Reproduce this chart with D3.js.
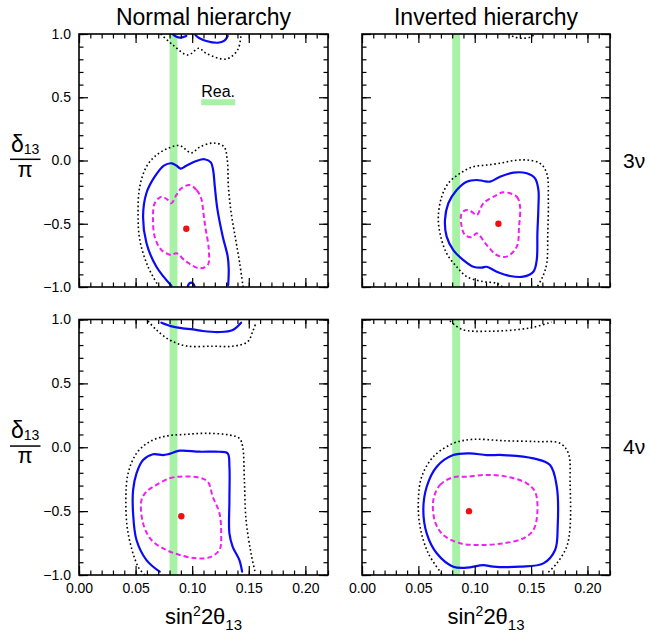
<!DOCTYPE html>
<html>
<head>
<meta charset="utf-8">
<script src="https://cdn.jsdelivr.net/npm/d3@7"></script>
<style>
  html, body { margin: 0; padding: 0; background: #fff; }
  svg text { font-family: "Liberation Sans", Arial, Helvetica, sans-serif; fill: #000; }
</style>
</head>
<body>
<svg id="chart" width="650" height="633"></svg>
<script>
// ---- axis settings ----
const xDomain = [0, 0.22];
const yDomain = [-1, 1];
const xMajorTicks = [0, 0.05, 0.10, 0.15, 0.20];
const yMajorTicks = [-1, -0.5, 0, 0.5, 1];
const columnTitles = ["Normal hierarchy", "Inverted hierarchy"];
const rowLabels = ["3\u03bd", "4\u03bd"];

// reactor allowed band in sin^2 2theta13
const reactorBand = [0.080, 0.087];

// best-fit points [sin^2 2theta13, delta13/pi]
const bestFitNH3 = [0.0948, -0.54];
const bestFitIH3 = [0.1210, -0.50];
const bestFitNH4 = [0.0904, -0.54];
const bestFitIH4 = [0.0949, -0.50];

// ---- Normal hierarchy, 3 flavours ----
const nh3Magenta = [[0.0977,-0.194],[0.1040,-0.235],[0.1080,-0.300],[0.1100,-0.420],[0.1115,-0.520],[0.1147,-0.707],[0.1138,-0.826],[0.1065,-0.852],[0.0948,-0.800],[0.0860,-0.733],[0.0816,-0.747],[0.0728,-0.707],[0.0669,-0.602],[0.0654,-0.444],[0.0669,-0.338],[0.0728,-0.286],[0.0786,-0.312],[0.0816,-0.338],[0.0860,-0.273],[0.0904,-0.220]];
const nh3Blue = [[0.0816,-0.990],[0.0684,-0.840],[0.0596,-0.652],[0.0566,-0.444],[0.0596,-0.257],[0.0669,-0.128],[0.0750,-0.040],[0.0820,-0.022],[0.0860,-0.040],[0.0898,-0.064],[0.0948,-0.041],[0.1036,-0.004],[0.1110,0.010],[0.1165,-0.015],[0.1185,-0.075],[0.1200,-0.207],[0.1222,-0.380],[0.1270,-0.600],[0.1314,-0.760],[0.1323,-0.860],[0.1318,-0.985]];
const nh3BlueTopA = [[0.0826,1.0],[0.0860,0.978],[0.0900,0.972],[0.0948,0.985]];
const nh3BlueTopB = [[0.1030,0.990],[0.1065,0.966],[0.1124,0.945],[0.1226,0.931],[0.1285,0.947],[0.1314,0.984]];
const nh3BlueBottom = [[0.0962,-0.992],[0.0975,-0.972],[0.0992,-0.966],[0.1010,-0.975],[0.1020,-0.992]];
const nh3Dotted = [[0.0707,-1.0],[0.0610,-0.840],[0.0537,-0.628],[0.0522,-0.417],[0.0537,-0.207],[0.0596,-0.049],[0.0684,0.043],[0.0786,0.096],[0.0890,0.118],[0.0992,0.060],[0.1065,0.105],[0.1182,0.138],[0.1280,0.110],[0.1310,0.004],[0.1320,-0.207],[0.1345,-0.417],[0.1385,-0.628],[0.1420,-0.813],[0.1450,-1.0]];
const nh3DottedTop = [[0.0722,1.0],[0.0830,0.913],[0.0962,0.834],[0.1059,0.887],[0.1124,0.847],[0.1300,0.802],[0.1402,0.874],[0.1432,1.0]];

// ---- Inverted hierarchy, 3 flavours ----
const ih3Magenta = [[0.1254,-0.251],[0.1373,-0.286],[0.1402,-0.365],[0.1393,-0.523],[0.1373,-0.681],[0.1284,-0.760],[0.1195,-0.747],[0.1106,-0.668],[0.1018,-0.576],[0.0973,-0.607],[0.0914,-0.589],[0.0884,-0.523],[0.0884,-0.417],[0.0929,-0.391],[0.0973,-0.405],[0.1018,-0.431],[0.1077,-0.338],[0.1195,-0.273]];
const ih3Blue = [[0.0929,-0.167],[0.1018,-0.154],[0.1077,-0.162],[0.1136,-0.167],[0.1224,-0.128],[0.1343,-0.096],[0.1461,-0.101],[0.1535,-0.141],[0.1565,-0.233],[0.1565,-0.365],[0.1556,-0.576],[0.1550,-0.787],[0.1520,-0.879],[0.1431,-0.918],[0.1313,-0.913],[0.1195,-0.879],[0.1106,-0.840],[0.1062,-0.847],[0.0988,-0.840],[0.0899,-0.787],[0.0810,-0.708],[0.0751,-0.602],[0.0736,-0.470],[0.0766,-0.338],[0.0840,-0.233]];
const ih3Dotted = [[0.1275,-1.02],[0.1195,-0.971],[0.1077,-0.958],[0.0929,-0.918],[0.0840,-0.840],[0.0751,-0.734],[0.0692,-0.576],[0.0677,-0.444],[0.0707,-0.286],[0.0766,-0.180],[0.0870,-0.101],[0.0988,-0.049],[0.1106,-0.036],[0.1224,-0.022],[0.1343,-0.001],[0.1461,0.004],[0.1579,-0.022],[0.1639,-0.101],[0.1653,-0.312],[0.1648,-0.576],[0.1639,-0.813],[0.1603,-0.918],[0.1540,-1.02]];
const ih3DottedTop = [[0.1298,1.0],[0.1343,0.979],[0.1431,0.966],[0.1506,0.979],[0.1526,1.0]];

// ---- Normal hierarchy, 4 flavours ----
const nh4Magenta = [[0.0684,-0.295],[0.0801,-0.243],[0.0889,-0.230],[0.1065,-0.238],[0.1138,-0.270],[0.1182,-0.387],[0.1241,-0.517],[0.1256,-0.674],[0.1241,-0.804],[0.1153,-0.862],[0.1036,-0.869],[0.0889,-0.843],[0.0772,-0.804],[0.0640,-0.726],[0.0566,-0.595],[0.0552,-0.413],[0.0596,-0.348]];
const nh4Blue = [[0.0713,-0.974],[0.0596,-0.883],[0.0508,-0.726],[0.0478,-0.517],[0.0478,-0.335],[0.0508,-0.204],[0.0566,-0.100],[0.0654,-0.055],[0.0742,-0.061],[0.0786,-0.055],[0.0889,-0.027],[0.1065,-0.035],[0.1241,-0.035],[0.1314,-0.048],[0.1329,-0.152],[0.1329,-0.413],[0.1329,-0.674],[0.1358,-0.779],[0.1417,-0.883],[0.1441,-0.974]];
const nh4BlueTop = [[0.0728,0.975],[0.0830,0.944],[0.0918,0.931],[0.1006,0.923],[0.1094,0.910],[0.1241,0.902],[0.1358,0.918],[0.1432,0.975]];
const nh4Dotted = [[0.0581,-1.0],[0.0522,-0.935],[0.0434,-0.674],[0.0414,-0.413],[0.0434,-0.204],[0.0508,-0.048],[0.0625,0.044],[0.0772,0.088],[0.0948,0.101],[0.1124,0.109],[0.1329,0.096],[0.1417,0.070],[0.1446,0.004],[0.1461,-0.256],[0.1476,-0.570],[0.1520,-0.830],[0.1558,-0.987]];
const nh4DottedTop = [[0.0610,0.988],[0.0684,0.918],[0.0801,0.840],[0.0948,0.793],[0.1182,0.791],[0.1358,0.791],[0.1490,0.826],[0.1534,0.905],[0.1564,0.975]];

// ---- Inverted hierarchy, 4 flavours ----
const ih4Magenta = [[0.0633,-0.413],[0.0692,-0.295],[0.0810,-0.235],[0.0929,-0.230],[0.1106,-0.217],[0.1284,-0.230],[0.1461,-0.282],[0.1535,-0.348],[0.1556,-0.504],[0.1520,-0.648],[0.1431,-0.713],[0.1254,-0.752],[0.1047,-0.765],[0.0870,-0.752],[0.0721,-0.687],[0.0648,-0.583]];
const ih4Blue = [[0.0544,-0.491],[0.0574,-0.309],[0.0663,-0.152],[0.0810,-0.061],[0.0958,-0.048],[0.1106,-0.061],[0.1254,-0.061],[0.1520,-0.087],[0.1668,-0.139],[0.1728,-0.309],[0.1736,-0.622],[0.1713,-0.804],[0.1609,-0.909],[0.1402,-0.935],[0.1165,-0.935],[0.1077,-0.922],[0.0929,-0.943],[0.0810,-0.935],[0.0663,-0.830],[0.0574,-0.674]];
const ih4Dotted = [[0.0707,-0.990],[0.0588,-0.830],[0.0515,-0.622],[0.0500,-0.413],[0.0530,-0.230],[0.0633,-0.074],[0.0810,0.031],[0.0988,0.062],[0.1254,0.051],[0.1550,0.044],[0.1757,0.031],[0.1831,-0.048],[0.1846,-0.282],[0.1846,-0.622],[0.1816,-0.778],[0.1728,-0.909],[0.1639,-0.990]];
const ih4DottedTop = [[0.0780,0.990],[0.0885,0.923],[0.1136,0.908],[0.1490,0.934],[0.1680,0.980]];

// ---- page layout ----
const svg = d3.select("#chart");
const font = "\"Liberation Sans\", Arial, Helvetica, sans-serif";

const panels = [
  { left: 79,  right: 328, top: 34,    bottom: 287, showX: false, showY: true,
    dot: bestFitNH3,
    dotted: [nh3Dotted, nh3DottedTop], blue: [nh3Blue, nh3BlueTopA, nh3BlueTopB, nh3BlueBottom],
    blueClosed: [], magenta: [nh3Magenta], legend: true },
  { left: 362, right: 610, top: 34,    bottom: 287, showX: false, showY: false,
    dot: bestFitIH3,
    dotted: [ih3Dotted, ih3DottedTop], blue: [], blueClosed: [ih3Blue], magenta: [ih3Magenta] },
  { left: 79,  right: 328, top: 319.5, bottom: 575, showX: true,  showY: true,
    dot: bestFitNH4,
    dotted: [nh4Dotted, nh4DottedTop], blue: [nh4Blue, nh4BlueTop], blueClosed: [], magenta: [nh4Magenta] },
  { left: 362, right: 610, top: 319.5, bottom: 575, showX: true,  showY: false,
    dot: bestFitIH4,
    dotted: [ih4Dotted, ih4DottedTop], blue: [], blueClosed: [ih4Blue], magenta: [ih4Magenta] }
];

const fmtX = d3.format(".2f");
const fmtY = d3.format(".1f");
const xMinor = d3.range(0, 0.2201, 0.01);
const yMinor = d3.range(-1, 1.0001, 0.1);

panels.forEach((p, i) => {
  const w = p.right - p.left, h = p.bottom - p.top;
  const x = d3.scaleLinear().domain(xDomain).range([0, w]);
  const y = d3.scaleLinear().domain(yDomain).range([h, 0]);
  const g = svg.append("g").attr("transform", `translate(${p.left},${p.top})`);

  const clipId = "clip" + i;
  g.append("clipPath").attr("id", clipId)
    .append("rect").attr("width", w).attr("height", h);
  const plot = g.append("g").attr("clip-path", `url(#${clipId})`);

  // reactor band
  plot.append("rect")
    .attr("x", x(reactorBand[0])).attr("width", x(reactorBand[1]) - x(reactorBand[0]))
    .attr("y", 0).attr("height", h)
    .attr("fill", "#a8f2a8");

  const open = d3.line().x(d => x(d[0])).y(d => y(d[1])).curve(d3.curveCatmullRom.alpha(0.5));
  const closed = d3.line().x(d => x(d[0])).y(d => y(d[1])).curve(d3.curveCatmullRomClosed.alpha(0.5));

  p.dotted.forEach(c => plot.append("path").attr("d", open(c))
    .attr("fill", "none").attr("stroke", "#000").attr("stroke-width", 1.6)
    .attr("stroke-dasharray", "1.6,2.6"));
  p.blue.forEach(c => plot.append("path").attr("d", open(c))
    .attr("fill", "none").attr("stroke", "#0a0af5").attr("stroke-width", 2.2)
    .attr("stroke-linecap", "round"));
  p.blueClosed.forEach(c => plot.append("path").attr("d", closed(c))
    .attr("fill", "none").attr("stroke", "#0a0af5").attr("stroke-width", 2.2));
  p.magenta.forEach(c => plot.append("path").attr("d", closed(c))
    .attr("fill", "none").attr("stroke", "#f020f0").attr("stroke-width", 2)
    .attr("stroke-dasharray", "5,3"));

  plot.append("circle").attr("cx", x(p.dot[0])).attr("cy", y(p.dot[1]))
    .attr("r", 3.2).attr("fill", "#f01010");

  // ticks on all four sides, pointing inward
  const styleAxis = sel => {
    sel.select(".domain").remove();
    sel.selectAll("line").attr("stroke", "#000").attr("stroke-width", 1.2);
    sel.selectAll("text").style("font-family", font).style("font-size", "14px").attr("fill", "#000");
  };
  g.append("g").attr("transform", `translate(0,${h})`)
    .call(d3.axisBottom(x).tickValues(xMinor).tickSize(-4.5).tickFormat(""))
    .call(styleAxis);
  g.append("g").attr("transform", `translate(0,${h})`)
    .call(d3.axisBottom(x).tickValues(xMajorTicks).tickSize(-9).tickPadding(8)
      .tickFormat(p.showX ? fmtX : ""))
    .call(styleAxis);
  g.append("g")
    .call(d3.axisTop(x).tickValues(xMinor).tickSize(-4.5).tickFormat(""))
    .call(styleAxis);
  g.append("g")
    .call(d3.axisTop(x).tickValues(xMajorTicks).tickSize(-9).tickFormat(""))
    .call(styleAxis);
  g.append("g")
    .call(d3.axisLeft(y).tickValues(yMinor).tickSize(-4.5).tickFormat(""))
    .call(styleAxis);
  g.append("g")
    .call(d3.axisLeft(y).tickValues(yMajorTicks).tickSize(-9).tickPadding(8)
      .tickFormat(p.showY ? fmtY : ""))
    .call(styleAxis);
  g.append("g").attr("transform", `translate(${w},0)`)
    .call(d3.axisRight(y).tickValues(yMinor).tickSize(-4.5).tickFormat(""))
    .call(styleAxis);
  g.append("g").attr("transform", `translate(${w},0)`)
    .call(d3.axisRight(y).tickValues(yMajorTicks).tickSize(-9).tickFormat(""))
    .call(styleAxis);

  g.append("rect").attr("width", w).attr("height", h)
    .attr("fill", "none").attr("stroke", "#000").attr("stroke-width", 1.6);

  // legend for the reactor band
  if (p.legend) {
    g.append("text").attr("x", x(0.108)).attr("y", y(0.5) - 0.5)
      .style("font-size", "16px").text("Rea.");
    g.append("rect").attr("x", x(0.108)).attr("y", y(0.5) + 2)
      .attr("width", 34).attr("height", 6).attr("fill", "#a8f2a8");
  }

  // column titles
  if (i < 2) {
    svg.append("text").attr("x", p.left + w / 2).attr("y", 25)
      .attr("text-anchor", "middle").style("font-size", "23px").text(columnTitles[i]);
  }

  // x axis title
  if (p.showX) {
    const t = svg.append("text").attr("x", p.left + w / 2).attr("y", 624)
      .attr("text-anchor", "middle").style("font-size", "22px");
    t.append("tspan").text("sin");
    t.append("tspan").attr("dy", -8).style("font-size", "14px").text("2");
    t.append("tspan").attr("dy", 8).text("2\u03b8");
    t.append("tspan").attr("dy", 6).style("font-size", "15px").text("13");
  }

  const yZero = p.top + y(0);

  // y axis title as a fraction delta13 / pi
  if (p.showY) {
    const t = svg.append("text").attr("x", 11).attr("y", yZero - 9).style("font-size", "23px");
    t.append("tspan").text("\u03b4");
    t.append("tspan").attr("dy", 2).style("font-size", "14px").text("13");
    svg.append("line").attr("x1", 10).attr("x2", 40.5)
      .attr("y1", yZero - 1.2).attr("y2", yZero - 1.2)
      .attr("stroke", "#000").attr("stroke-width", 1.5);
    svg.append("text").attr("x", 25).attr("y", yZero + 16)
      .attr("text-anchor", "middle").style("font-size", "22px").text("\u03c0");
  }

  // row labels on the right
  if (!p.showY) {
    svg.append("text").attr("x", 623).attr("y", yZero + 7)
      .style("font-size", "21px").text(rowLabels[i < 2 ? 0 : 1]);
  }
});
</script>
</body>
</html>
